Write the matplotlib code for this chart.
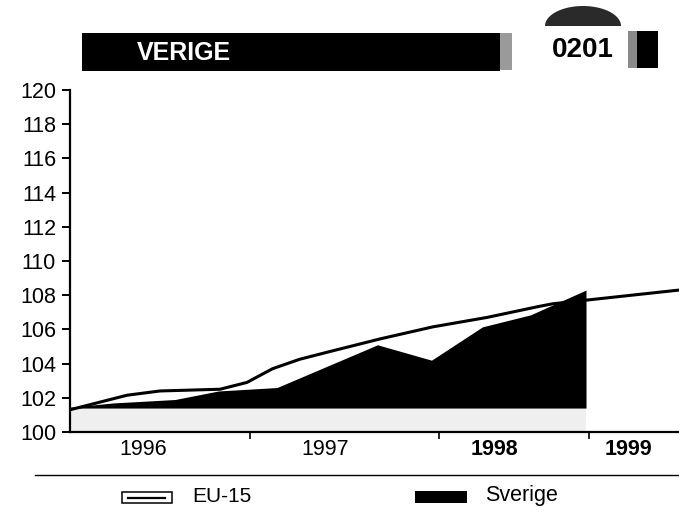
import matplotlib
matplotlib.use("Agg")
import matplotlib.pyplot as plt
import numpy as np
from matplotlib.patches import Rectangle, Polygon
from matplotlib.lines import Line2D

plt.rcParams['font.family'] = ['Liberation Sans', 'DejaVu Sans']

# ---- data (x in months since Jan 1996) ----
eu_months = [0, 3.8, 6.0, 10.0, 11.8, 13.5, 15.3, 17.3, 20.7, 24.2, 27.8, 31.3, 32.2, 40.6]
eu_values = [101.3, 102.15, 102.4, 102.5, 102.9, 103.7, 104.25, 104.7, 105.45, 106.15, 106.7, 107.35, 107.5, 108.3]

se_months = [0, 2.9, 7.0, 9.9, 13.8, 20.5, 24.1, 27.5, 30.7, 34.4]
se_values = [101.45, 101.7, 101.9, 102.4, 102.6, 105.1, 104.2, 106.15, 106.85, 108.3]
se_base = 101.4

year_labels = ["1996", "1997", "1998", "1999"]
year_label_pos = [4.9, 17.0, 28.3, 37.2]
year_bold = [False, False, True, True]
year_ticks = [12.0, 24.6, 34.6]

yticks = list(range(100, 121, 2))

title_text = "VERIGE"
code_text = "0201"
legend_labels = ["EU-15", "Sverige"]

# ---- figure ----
W, H = 679, 512
fig = plt.figure(figsize=(W / 100, H / 100), dpi=100)

def fx(x):
    return x / W

def fy(y):
    return 1 - y / H

ax = fig.add_axes([fx(70), fy(432), fx(679) - fx(70), fy(90) - fy(432)])
ax.set_xlim(0, 40.6)
ax.set_ylim(100, 120)

ax.fill_between([0, se_months[-1]], 100, se_base, color='#efefef', linewidth=0, zorder=1)
ax.fill_between(se_months, se_base, se_values, color='black', linewidth=0, zorder=2)
ax.plot(eu_months, eu_values, color='black', linewidth=2.2, zorder=3,
        solid_joinstyle='round', solid_capstyle='butt')

for s in ['top', 'right']:
    ax.spines[s].set_visible(False)
ax.spines['left'].set_linewidth(1.6)
ax.spines['bottom'].set_linewidth(1.6)

ax.set_yticks(yticks)
ax.set_yticklabels([str(v) for v in yticks])
ax.tick_params(axis='y', direction='out', length=6, width=1.4, pad=4, labelsize=15.5)

ax.set_xticks(year_ticks)
ax.set_xticklabels([''] * len(year_ticks))
ax.tick_params(axis='x', which='major', direction='out', length=5, width=1.2)
ax.set_xticks(year_label_pos, minor=True)
ax.set_xticklabels(year_labels, minor=True)
ax.tick_params(axis='x', which='minor', length=0, pad=5, labelsize=15.5)
for lbl, b in zip(ax.get_xticklabels(minor=True), year_bold):
    if b:
        lbl.set_fontweight('bold')

# ---- title bar ----
fig.add_artist(Rectangle((fx(82), fy(71)), fx(500) - fx(82), fy(33) - fy(71),
                         transform=fig.transFigure, facecolor='black', edgecolor='none'))
fig.add_artist(Rectangle((fx(500), fy(70)), fx(512) - fx(500), fy(33) - fy(70),
                         transform=fig.transFigure, facecolor='#9a9a9a', edgecolor='none'))
fig.add_artist(Rectangle((fx(636), fy(68)), fx(658) - fx(636), fy(31) - fy(68),
                         transform=fig.transFigure, facecolor='black', edgecolor='none'))
fig.add_artist(Rectangle((fx(628), fy(68)), fx(637) - fx(628), fy(31) - fy(68),
                         transform=fig.transFigure, facecolor='#8a8a8a', edgecolor='none'))
th = np.linspace(0, np.pi, 60)
dome = np.column_stack([fx(583 + 38 * np.cos(th)), fy(26 + 0 * th) + (20 / H) * np.sin(th)])
fig.add_artist(Polygon(dome, closed=True, transform=fig.transFigure,
                       facecolor='#2a2a2a', edgecolor='none'))
fig.text(fx(137), fy(53), title_text, color='white', fontsize=18, fontweight='bold',
         ha='left', va='center')
fig.text(fx(552), fy(50), code_text, color='black', fontsize=20, fontweight='bold',
         ha='left', va='center')

# ---- legend ----
fig.add_artist(Line2D([fx(35), fx(679)], [fy(475), fy(475)], transform=fig.transFigure,
                      color='black', linewidth=1.0))
fig.add_artist(Rectangle((fx(122), fy(503)), fx(172) - fx(122), fy(492) - fy(503),
                         transform=fig.transFigure, facecolor='white', edgecolor='black',
                         linewidth=1.1))
fig.add_artist(Line2D([fx(128), fx(165)], [fy(497.5), fy(497.5)], transform=fig.transFigure,
                      color='black', linewidth=1.6))
fig.text(fx(192), fy(497), legend_labels[0], fontsize=15, ha='left', va='center')
fig.add_artist(Rectangle((fx(415), fy(503)), fx(467) - fx(415), fy(491) - fy(503),
                         transform=fig.transFigure, facecolor='black', edgecolor='none'))
fig.text(fx(485), fy(495), legend_labels[1], fontsize=15.5, ha='left', va='center')

fig.savefig("out.png", dpi=100)
